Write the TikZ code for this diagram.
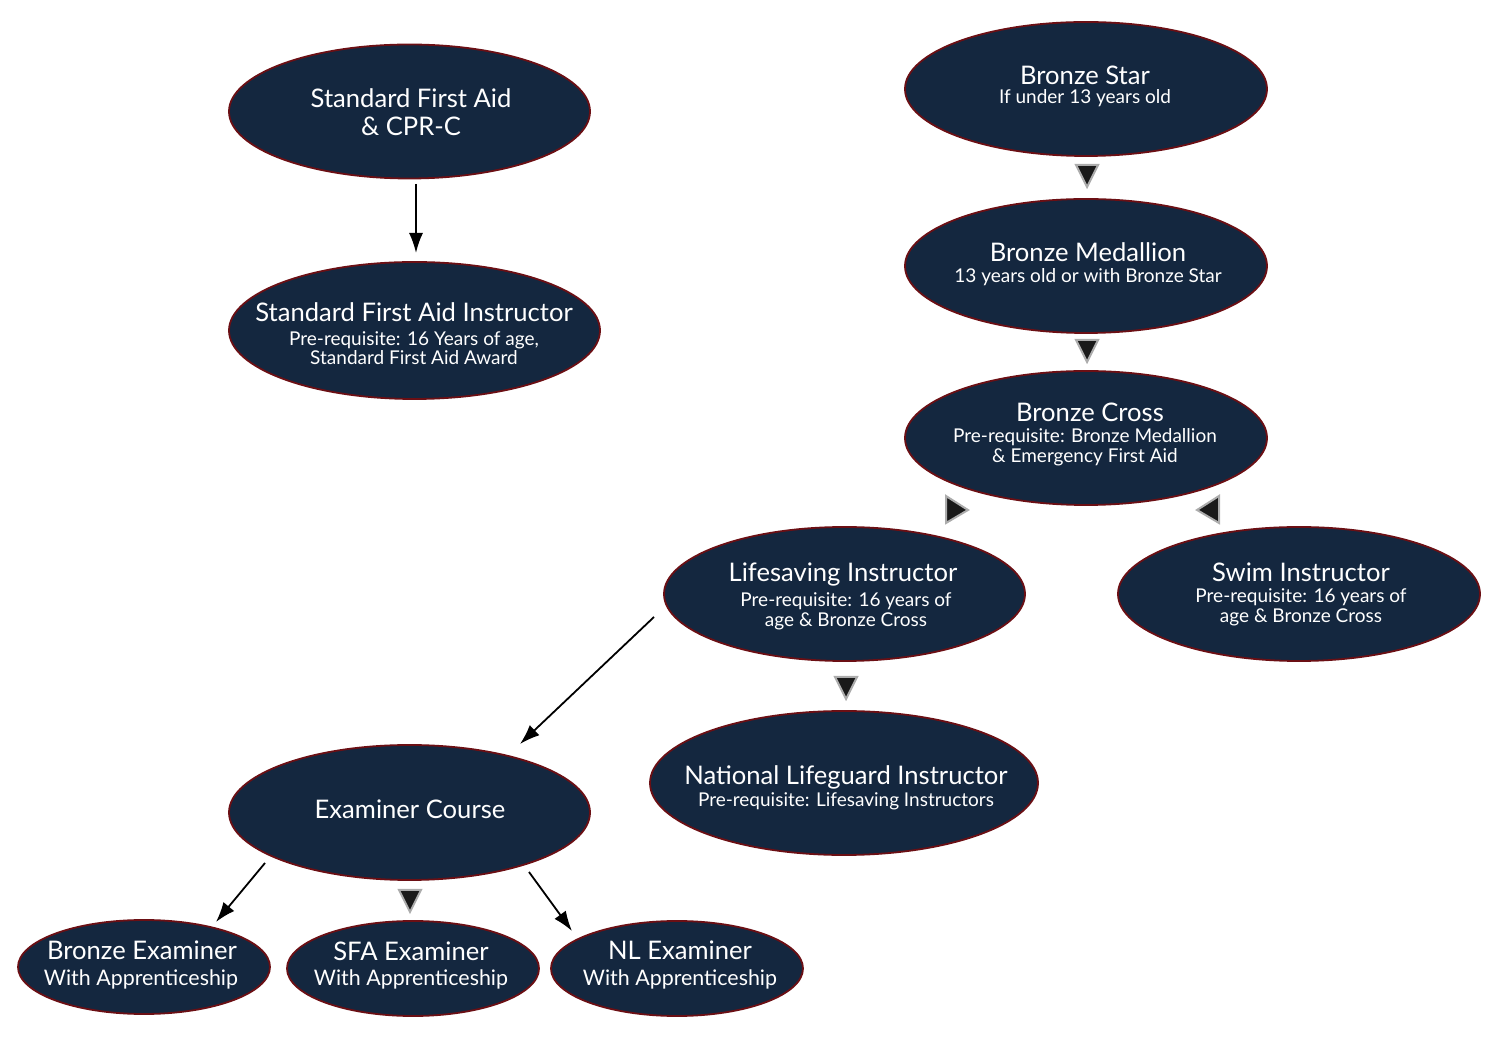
\documentclass[tikz,border=0pt]{standalone}
\usepackage{fontspec}
\setmainfont{Lato}
\usetikzlibrary{shapes.geometric,arrows.meta}
\definecolor{navy}{HTML}{14273F}
\definecolor{rim}{HTML}{6B0F14}
\definecolor{trifill}{HTML}{1A1A1A}
\begin{document}
\begin{tikzpicture}[x=0.5pt,y=-0.5pt,
  ov/.style={ellipse, fill=navy, draw=rim, line width=0.9pt, inner sep=0pt},
  ttl/.style={text=white, font=\fontsize{12.8}{14}\selectfont, anchor=base, inner sep=0pt},
  sub/.style={text=white, font=\fontsize{9.5}{11}\selectfont, anchor=base, inner sep=0pt},
  exsub/.style={text=white, font=\fontsize{10.7}{12}\selectfont, anchor=base, inner sep=0pt},
  tri/.style={fill=trifill, draw=gray!65, line width=1pt, line join=miter},
  arr/.style={-{Latex[length=10pt,width=7pt]}, line width=0.9pt, black},
  tridown/.pic={\draw[tri] (-11,-10) -- (11,-10) -- (0,12) -- cycle;}]
\useasboundingbox (0,0) rectangle (1500,1052);
% ellipses
\node[ov, minimum width=180.5pt, minimum height=67pt] (sfa) at (409.5,111.5) {};
\node[ov, minimum width=185.5pt, minimum height=68.5pt] (sfai) at (414.5,330.5) {};
\node[ov, minimum width=181pt, minimum height=67pt] (bstar) at (1086,89) {};
\node[ov, minimum width=181pt, minimum height=67pt] (bmed) at (1086,266) {};
\node[ov, minimum width=181pt, minimum height=67pt] (bcross) at (1086,438) {};
\node[ov, minimum width=180.5pt, minimum height=67pt] (lsi) at (844.5,594) {};
\node[ov, minimum width=181pt, minimum height=67pt] (swim) at (1299,594) {};
\node[ov, minimum width=194pt, minimum height=72pt] (nli) at (844,783) {};
\node[ov, minimum width=180.5pt, minimum height=67.5pt] (exam) at (409.5,812.5) {};
\node[ov, minimum width=126pt, minimum height=47pt] (bex) at (144,967) {};
\node[ov, minimum width=126pt, minimum height=47.5pt] (sfaex) at (413,968.5) {};
\node[ov, minimum width=126pt, minimum height=47.5pt] (nlex) at (677,968.5) {};
% texts
\node[ttl] (sfa1) at (411,108) {Standard First Aid};
\node[ttl] (sfa2) at (411,136) {\& CPR-C};
\node[ttl] (sfai1) at (414,322) {Standard First Aid Instructor};
\node[sub] (sfai2) at (414,346) {Pre-requisite: 16 Years of age,};
\node[sub] (sfai3) at (414,365) {Standard First Aid Award};
\node[ttl] (bstar1) at (1085,85) {Bronze Star};
\node[sub] (bstar2) at (1085,104) {If under 13 years old};
\node[ttl] (bmed1) at (1088,262) {Bronze Medallion};
\node[sub] (bmed2) at (1088,283) {13 years old or with Bronze Star};
\node[ttl] (bcross1) at (1090,422) {Bronze Cross};
\node[sub] (bcross2) at (1085,443) {Pre-requisite: Bronze Medallion};
\node[sub] (bcross3) at (1085,463) {\& Emergency First Aid};
\node[ttl] (lsi1) at (843,582) {Lifesaving Instructor};
\node[sub] (lsi2) at (846,607) {Pre-requisite: 16 years of};
\node[sub] (lsi3) at (846,627) {age \& Bronze Cross};
\node[ttl] (swim1) at (1301,582) {Swim Instructor};
\node[sub] (swim2) at (1301,603) {Pre-requisite: 16 years of};
\node[sub] (swim3) at (1301,623) {age \& Bronze Cross};
\node[ttl] (nli1) at (846,785) {National Lifeguard Instructor};
\node[sub] (nli2) at (846,807) {Pre-requisite: Lifesaving Instructors};
\node[ttl] (exam1) at (410,819) {Examiner Course};
\node[ttl] (bex1) at (142,959) {Bronze Examiner};
\node[exsub] (bex2) at (141,986) {With Apprenticeship};
\node[ttl] (sfaex1) at (411,961) {SFA Examiner};
\node[exsub] (sfaex2) at (411,986) {With Apprenticeship};
\node[ttl] (nlex1) at (680,959) {NL Examiner};
\node[exsub] (nlex2) at (680,986) {With Apprenticeship};
% line arrows
\coordinate (a1s) at (416,184); \coordinate (a1e) at (416,253);
\draw[arr] (a1s) -- (a1e);
\coordinate (a2s) at (654,617); \coordinate (a2e) at (520,744);
\draw[arr] (a2s) -- (a2e);
\coordinate (a3s) at (265,863); \coordinate (a3e) at (216,922);
\draw[arr] (a3s) -- (a3e);
\coordinate (a4s) at (529,872); \coordinate (a4e) at (572,931);
\draw[arr] (a4s) -- (a4e);
% triangle markers
\pic at (1087,175) {tridown};
\pic at (1087,350) {tridown};
\pic at (846,687) {tridown};
\pic at (410,900) {tridown};
\draw[tri] (946,496) -- (946,523) -- (968,510) -- cycle;
\draw[tri] (1219,496) -- (1219,523) -- (1197,510) -- cycle;
\end{tikzpicture}
\end{document}
